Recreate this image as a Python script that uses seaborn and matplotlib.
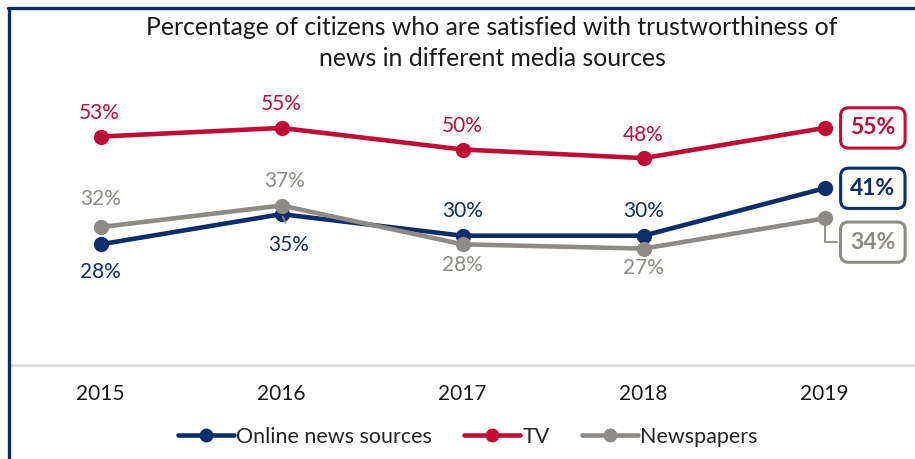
import matplotlib
matplotlib.use("Agg")
import matplotlib.pyplot as plt
import seaborn as sns
import pandas as pd
from matplotlib.lines import Line2D

years = ["2015", "2016", "2017", "2018", "2019"]
online = [28, 35, 30, 30, 41]
tv = [53, 55, 50, 48, 55]
newspapers = [32, 37, 28, 27, 34]
series_names = ["Online news sources", "TV", "Newspapers"]
colors = {"Online news sources": "#0b2e6b", "TV": "#c00d35", "Newspapers": "#8e8a86"}

title = "Percentage of citizens who are satisfied with trustworthiness of\nnews in different media sources"

sns.set_theme(style="white")
plt.rcParams["font.family"] = ["Lato", "DejaVu Sans"]

df = pd.DataFrame({
    "year": years * 3,
    "value": online + tv + newspapers,
    "series": [s for s in series_names for _ in years],
})

W, H = 915, 459
fig = plt.figure(figsize=(W / 100, H / 100), dpi=100)
ax_bottom = 365
ax_top = 365 - 60 * 4.31
ax = fig.add_axes([10 / W, (H - ax_bottom) / H, (W - 10) / W, (ax_bottom - ax_top) / H])

sns.lineplot(data=df, x="year", y="value", hue="series", hue_order=series_names,
             palette=colors, marker="o", markersize=11, markeredgewidth=0,
             linewidth=3.3, sort=False, legend=False, ax=ax)

ax.set_xlim(-0.5, 4.5)
ax.set_ylim(0, 60)
ax.set_xlabel("")
ax.set_ylabel("")
ax.set_yticks([])
ax.tick_params(axis="x", length=0, pad=14, labelsize=15, labelcolor="#1a1a1a")
for side in ["top", "left", "right"]:
    ax.spines[side].set_visible(False)
ax.spines["bottom"].set_color("#d9d9d9")
ax.spines["bottom"].set_linewidth(1.8)

# data labels: (dx, dy) offsets in points (positive dy = above)
placements = {
    "Online news sources": [(0, -20), (5, -22), (0, 18), (0, 18), None],
    "TV": [(-1, 17), (0, 17), (0, 17), (0, 17), None],
    "Newspapers": [(0, 20), (2, 18), (0, -15), (0, -14), None],
}
values = {"Online news sources": online, "TV": tv, "Newspapers": newspapers}
for name in series_names:
    for i, (v, off) in enumerate(zip(values[name], placements[name])):
        if off is None:
            continue
        ax.annotate(f"{v}%", (i, v), xytext=off, textcoords="offset points",
                    ha="center", va="center", fontsize=15, color=colors[name])

# leader for the 2016 online label
ax.annotate("", xy=(1, online[1]), xytext=(1.03, online[1] - 2.6),
            arrowprops=dict(arrowstyle="-", color="#8e8a86", lw=1.3))

# boxed end labels for 2019
box_y = {"TV": 55, "Online news sources": 41, "Newspapers": 28.5}
for name in ["TV", "Online news sources", "Newspapers"]:
    v = values[name][4]
    ax.annotate(f"{v}%", (4, v), xytext=(4.267, box_y[name]), textcoords="data",
                ha="center", va="center", fontsize=16.5, fontweight="bold",
                color=colors[name],
                bbox=dict(boxstyle="round,pad=0.42,rounding_size=0.35", fc="white",
                          ec=colors[name], lw=2.2))

# elbow connector from the 2019 newspaper point to its box
ax.plot([4, 4, 4.07], [newspapers[4], 28.5, 28.5], color="#8e8a86", lw=1.3, zorder=1)

fig.text(492 / W, 1 - 43 / H, title, ha="center", va="center", fontsize=17.8,
         color="#1a1a1a", linespacing=1.4)

handles = [Line2D([0], [0], color=colors[n], lw=3.3, marker="o", markersize=10,
                  markeredgewidth=0) for n in series_names]
fig.legend(handles, series_names, loc="center", bbox_to_anchor=(468 / W, 1 - 437 / H),
           ncol=3, frameon=False, fontsize=15.5, handlelength=2.6, handletextpad=0.1,
           columnspacing=1.5, borderpad=0)

# frame lines along the top and left edges
fig.add_artist(Line2D([8 / W, 1], [1 - 8 / H, 1 - 8 / H], color="#0b2e6b", lw=2.4,
                      transform=fig.transFigure))
fig.add_artist(Line2D([9 / W, 9 / W], [0, 1 - 8 / H], color="#0b2e6b", lw=2.4,
                      transform=fig.transFigure))

fig.savefig("out.png", dpi=100)
